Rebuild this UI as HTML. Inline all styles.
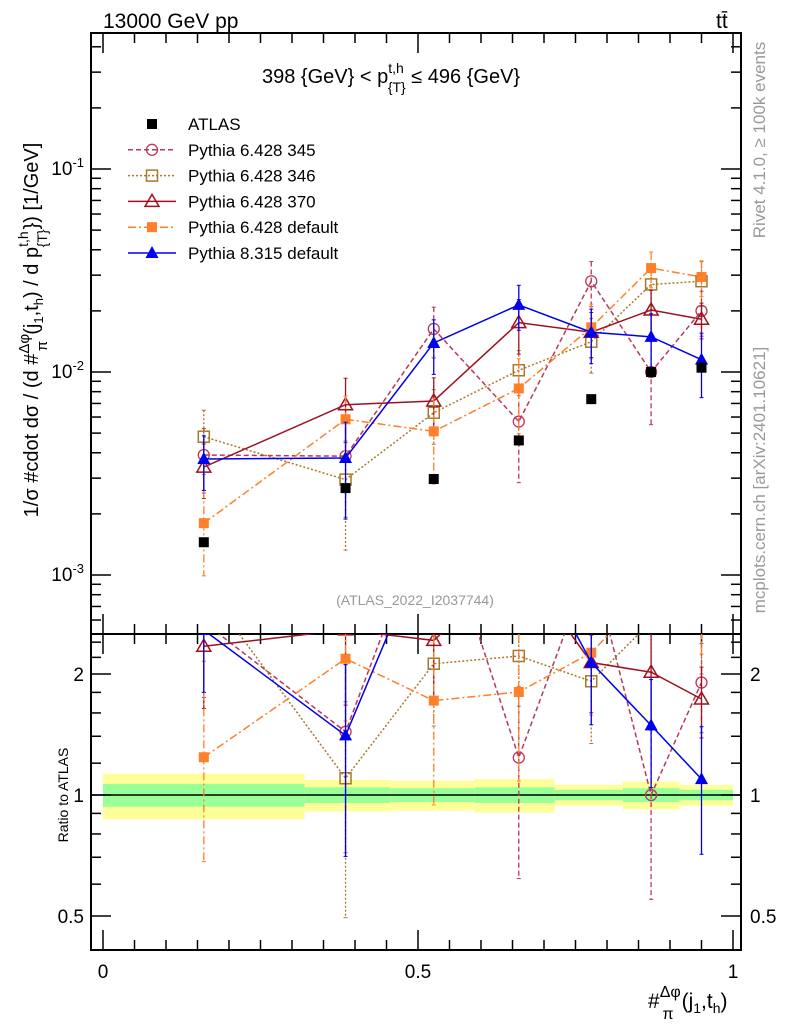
<!DOCTYPE html>
<html><head><meta charset="utf-8"><style>
html,body{margin:0;padding:0;background:#fff;}
svg{display:block;font-family:"Liberation Sans",sans-serif;}
</style></head><body>
<svg id="chart" width="786" height="1024" viewBox="0 0 786 1024" xmlns="http://www.w3.org/2000/svg">
<g id="bands"></g>
<g id="axes"></g>
<g id="series"></g>
<text x="103" y="28" font-size="21">13000 GeV pp</text>
<text x="716" y="28" font-size="21">tt̄</text>
<text x="262" y="83" font-size="20">398 {GeV} &lt; p<tspan font-size="14" dy="-10">t,h</tspan><tspan font-size="14" dx="-16" dy="19">{T}</tspan><tspan dy="-9"> ≤ 496 {GeV}</tspan></text>
<text x="415" y="605" font-size="14" fill="#999" text-anchor="middle">(ATLAS_2022_I2037744)</text>
<text transform="translate(765,140) rotate(-90)" font-size="17" fill="#999" text-anchor="middle">Rivet 4.1.0, ≥ 100k events</text>
<text transform="translate(765,480) rotate(-90)" font-size="17" fill="#999" text-anchor="middle">mcplots.cern.ch [arXiv:2401.10621]</text>
<text transform="translate(38,330) rotate(-90)" font-size="20" text-anchor="middle">1/σ #cdot dσ / (d #<tspan font-size="15" dy="-9">Δφ</tspan><tspan font-size="15" dx="-17" dy="18">π</tspan><tspan dx="6" dy="-9">(j</tspan><tspan font-size="13" dy="5">1</tspan><tspan dy="-5">,t</tspan><tspan font-size="13" dy="5">h</tspan><tspan dy="-5">) / d p</tspan><tspan font-size="14" dy="-10">t,h</tspan><tspan font-size="14" dx="-16" dy="19">{T}</tspan><tspan dy="-9">}) [1/GeV]</tspan></text>
<text transform="translate(68,795) rotate(-90)" font-size="14" text-anchor="middle">Ratio to ATLAS</text>
<text x="648" y="1008" font-size="21">#<tspan font-size="16" dy="-11">Δφ</tspan><tspan font-size="16" dx="-18" dy="22">π</tspan><tspan dx="8" dy="-11">(j</tspan><tspan font-size="14" dy="5">1</tspan><tspan dy="-5">,t</tspan><tspan font-size="14" dy="5">h</tspan><tspan dy="-5">)</tspan></text>
<g id="legend"></g>
</svg>
<script>
const xCenters=[0.16,0.385,0.525,0.66,0.775,0.87,0.95];
const binEdges=[0,0.32,0.456,0.59,0.717,0.825,0.915,1.0];
const atlas=[1.45e-3,2.68e-3,2.97e-3,4.6e-3,7.35e-3,1.0e-2,1.05e-2];
const yellowErr=[0.13,0.09,0.085,0.095,0.06,0.08,0.06];
const greenErr=[0.065,0.045,0.04,0.045,0.03,0.04,0.03];
const p345=[3.9e-3,3.85e-3,1.63e-2,5.7e-3,2.8e-2,1.0e-2,2.0e-2];
const p345err=[0.35,0.5,0.28,0.5,0.25,0.45,0.25];
const p346=[4.8e-3,2.95e-3,6.3e-3,1.02e-2,1.41e-2,2.7e-2,2.8e-2];
const p346err=[0.35,0.55,0.3,0.25,0.3,0.25,0.25];
const p370=[3.4e-3,6.9e-3,7.2e-3,1.75e-2,1.57e-2,2.02e-2,1.82e-2];
const p370err=[0.3,0.35,0.3,0.3,0.25,0.25,0.2];
const p6def=[1.8e-3,5.85e-3,5.1e-3,8.3e-3,1.66e-2,3.25e-2,2.94e-2];
const p6err=[0.45,0.3,0.45,0.4,0.3,0.2,0.2];
const p8=[3.73e-3,3.77e-3,1.39e-2,2.14e-2,1.57e-2,1.49e-2,1.15e-2];
const p8err=[0.3,0.5,0.3,0.25,0.3,0.3,0.35];
const mainTicks=[-3,-2,-1];
const ratioTicks=[0.5,1,2];
const xTicks=[0,0.5,1];

const NS="http://www.w3.org/2000/svg";
const L=91,R=741,T=33,MB=634,RB=950;
function X(v){return 103+630*v;}
function Y(v){return 372-203*(Math.log10(v)+2);}
function RY(r){return 795-121*Math.log2(r);}
function mk(p,tag,at){const e=document.createElementNS(NS,tag);for(const k in at)e.setAttribute(k,at[k]);p.appendChild(e);return e;}
const ax=document.getElementById('axes'),bands=document.getElementById('bands'),ser=document.getElementById('series');

for(let i=0;i<atlas.length;i++){
  const x0=X(binEdges[i]),x1=X(binEdges[i+1]);
  let r=mk(bands,'rect',{x:x0,y:RY(1+yellowErr[i]),width:x1-x0,height:RY(1-yellowErr[i])-RY(1+yellowErr[i]),fill:'#ffff99'});
  
  
  r=mk(bands,'rect',{x:x0,y:RY(1+greenErr[i]),width:x1-x0,height:RY(1-greenErr[i])-RY(1+greenErr[i]),fill:'#99ff99'});
  
  
}
mk(bands,'line',{x1:L,x2:R,y1:RY(1),y2:RY(1),stroke:'#000','stroke-width':1.5});

mk(ax,'rect',{x:L,y:T,width:R-L,height:MB-T,fill:'none',stroke:'#000','stroke-width':2});
mk(ax,'rect',{x:L,y:MB,width:R-L,height:RB-MB,fill:'none',stroke:'#000','stroke-width':2});
for(let d=-4;d<=0;d++){for(let m=1;m<10;m++){const y=Y(m*Math.pow(10,d));if(y<T||y>MB)continue;const len=m==1?20:10;
  mk(ax,'line',{x1:L,x2:L+len,y1:y,y2:y,stroke:'#000','stroke-width':1.5});mk(ax,'line',{x1:R,x2:R-len,y1:y,y2:y,stroke:'#000','stroke-width':1.5});}}
mainTicks.forEach(d=>{const t=mk(ax,'text',{x:84,y:Y(Math.pow(10,d))+6,'font-size':19,'text-anchor':'end'});t.innerHTML='10<tspan font-size="13" dy="-8">'+d+'</tspan>';
  
  });
[0.4,0.5,0.6,0.7,0.8,0.9,1,1.2,1.4,1.6,1.8,2,2.2,2.4].forEach(r=>{const y=RY(r);if(y<MB||y>RB)return;const len=ratioTicks.includes(r)?20:10;
  mk(ax,'line',{x1:L,x2:L+len,y1:y,y2:y,stroke:'#000','stroke-width':1.5});mk(ax,'line',{x1:R,x2:R-len,y1:y,y2:y,stroke:'#000','stroke-width':1.5});});
ratioTicks.forEach(r=>{[[84,'end'],[750,'start']].forEach(([x,a])=>{const t=mk(ax,'text',{x:x,y:RY(r)+7,'font-size':19,'text-anchor':a});t.textContent=String(r);
  
  });});
for(let i=0;i<=20;i++){const v=i*0.05,x=X(v);const len=i%10==0?20:10;
  [[T,1],[MB,-1],[MB,1],[RB,-1]].forEach(([y,s])=>mk(ax,'line',{x1:x,x2:x,y1:y,y2:y+s*len,stroke:'#000','stroke-width':1.5}));}
xTicks.forEach(v=>{const t=mk(ax,'text',{x:X(v),y:978,'font-size':19,'text-anchor':'middle'});t.textContent=String(v);
  
  });

const clipD=mk(ser,'defs',{});
const c1=mk(clipD,'clipPath',{id:'cm'});mk(c1,'rect',{x:L,y:T,width:R-L,height:MB-T});
const c2=mk(clipD,'clipPath',{id:'cr'});mk(c2,'rect',{x:L,y:MB,width:R-L,height:RB-MB});
function marker(g,type,x,y,c){
  if(type=='circle')mk(g,'circle',{cx:x,cy:y,r:5.5,fill:'none',stroke:c,'stroke-width':1.3});
  else if(type=='osq')mk(g,'rect',{x:x-5.5,y:y-5.5,width:11,height:11,fill:'none',stroke:c,'stroke-width':1.5});
  else if(type=='fsq')mk(g,'rect',{x:x-5,y:y-5,width:10,height:10,fill:c});
  else if(type=='otri')mk(g,'path',{d:`M${x},${y-7}L${x+7},${y+5}L${x-7},${y+5}Z`,fill:'none',stroke:c,'stroke-width':1.5});
  else if(type=='ftri')mk(g,'path',{d:`M${x},${y-7}L${x+6.5},${y+5}L${x-6.5},${y+5}Z`,fill:c});
}
const defs=[
 {name:'pythia-6428-345',label:'Pythia 6.428 345',vals:p345,err:p345err,c:'#b8385a',dash:'5,3',m:'circle'},
 {name:'pythia-6428-346',label:'Pythia 6.428 346',vals:p346,err:p346err,c:'#a8792c',dash:'2,2',m:'osq'},
 {name:'pythia-6428-370',label:'Pythia 6.428 370',vals:p370,err:p370err,c:'#a01020',dash:'',m:'otri'},
 {name:'pythia-6428-default',label:'Pythia 6.428 default',vals:p6def,err:p6err,c:'#ff7f2a',dash:'8,3,2,3',m:'fsq'},
 {name:'pythia-8315-default',label:'Pythia 8.315 default',vals:p8,err:p8err,c:'#0000ee',dash:'',m:'ftri'}];
function drawSeries(s,ratio){
  const g=mk(ser,'g',{'clip-path':ratio?'url(#cr)':'url(#cm)'});
  
  
  const f=(v,i)=>ratio?RY(v/atlas[i]):Y(v);
  const pts=s.vals.map((v,i)=>X(xCenters[i])+','+f(v,i)).join(' ');
  mk(g,'polyline',{points:pts,fill:'none',stroke:s.c,'stroke-width':1.5,'stroke-dasharray':s.dash});
  s.vals.forEach((v,i)=>{const x=X(xCenters[i]);const hi=v*(1+s.err[i]),lo=v*(1-s.err[i]);
    mk(g,'line',{x1:x,x2:x,y1:f(hi,i),y2:f(lo,i),stroke:s.c,'stroke-width':1.3,'stroke-dasharray':s.dash});
    mk(g,'line',{x1:x-2,x2:x+2,y1:f(hi,i),y2:f(hi,i),stroke:s.c});mk(g,'line',{x1:x-2,x2:x+2,y1:f(lo,i),y2:f(lo,i),stroke:s.c});
    marker(g,s.m,x,f(v,i),s.c);});
}
defs.forEach(s=>{drawSeries(s,false);drawSeries(s,true);});
const ga=mk(ser,'g',{});


atlas.forEach((v,i)=>marker(ga,'fsq',X(xCenters[i]),Y(v),'#000'));

const lg=document.getElementById('legend');
const rows=[{label:'ATLAS',c:'#000',m:'fsq',dash:null}].concat(defs);
rows.forEach((s,i)=>{const y=124+i*25.8;const g=mk(lg,'g',{});
  
  
  if(s.dash!==null)mk(g,'line',{x1:128,x2:176,y1:y,y2:y,stroke:s.c,'stroke-width':1.5,'stroke-dasharray':s.dash});
  marker(g,s.m,152,y,s.c);
  const t=mk(g,'text',{x:188,y:y+6,'font-size':17});t.textContent=s.label;});
</script>
</body></html>
